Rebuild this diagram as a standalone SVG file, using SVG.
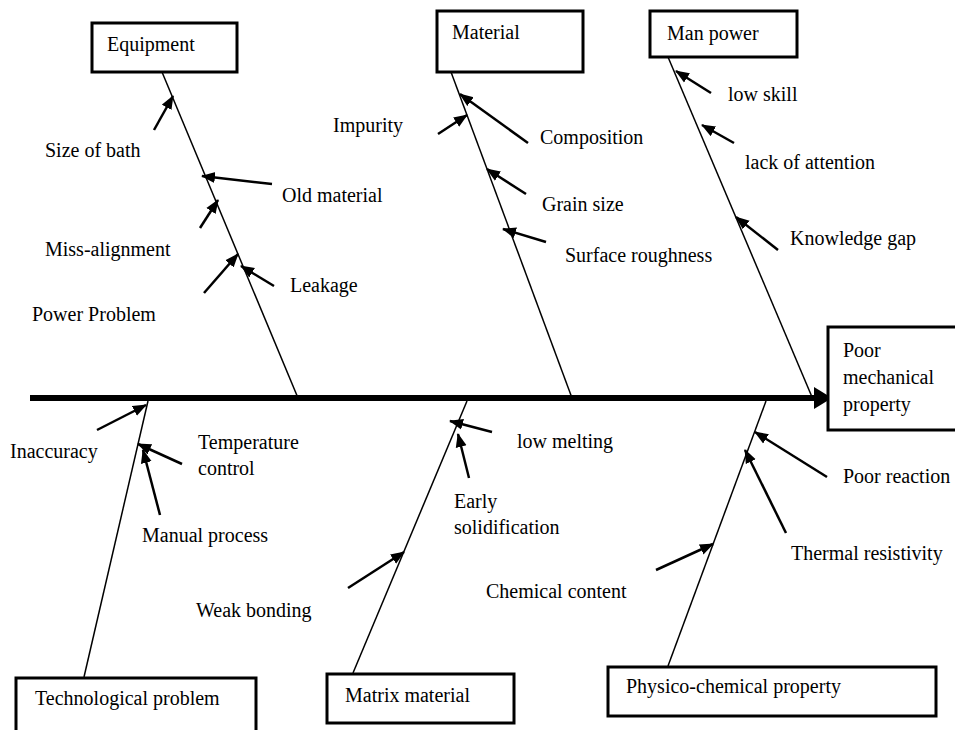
<svg xmlns="http://www.w3.org/2000/svg" width="955" height="730" viewBox="0 0 955 730">
<defs>
<style>
text{font-family:"Liberation Serif","Times New Roman",serif;font-size:20px;fill:#000}
.box{fill:#fff;stroke:#000;stroke-width:3}
.branch{stroke:#000;stroke-width:1.5;fill:none}
.sub{stroke:#000;stroke-width:2.5;fill:none;marker-end:url(#ah)}
</style>
<marker id="ah" markerUnits="userSpaceOnUse" markerWidth="14" markerHeight="12" refX="13" refY="5.5" orient="auto" viewBox="0 0 14 11">
<path d="M0,0 L14,5.5 L0,11 Z" fill="#000"/>
</marker>
</defs>
<rect width="955" height="730" fill="#fff"/>

<g id="connectors">
<line x1="30" y1="398" x2="818" y2="398" stroke="#000" stroke-width="6"/>
<polygon points="814,387 832,398 814,409" fill="#000"/>
<line class="branch" x1="162" y1="72" x2="298" y2="398"/>
<line class="branch" x1="451" y1="72" x2="572" y2="398"/>
<line class="branch" x1="668" y1="57" x2="812" y2="397"/>
<line class="branch" x1="148" y1="401" x2="84" y2="677"/>
<line class="branch" x1="467" y1="401" x2="353" y2="673"/>
<line class="branch" x1="766" y1="401" x2="668" y2="666"/>
<line class="sub" x1="154" y1="130" x2="173" y2="96"/>
<line class="sub" x1="272" y1="184" x2="202" y2="176"/>
<line class="sub" x1="200" y1="228" x2="218" y2="200"/>
<line class="sub" x1="204" y1="293" x2="238" y2="254"/>
<line class="sub" x1="274" y1="286" x2="241" y2="266"/>
<line class="sub" x1="528" y1="143" x2="460" y2="94"/>
<line class="sub" x1="438" y1="134" x2="467" y2="115"/>
<line class="sub" x1="526" y1="194" x2="487" y2="169"/>
<line class="sub" x1="546" y1="242" x2="503" y2="229"/>
<line class="sub" x1="711" y1="93" x2="676" y2="71"/>
<line class="sub" x1="734" y1="143" x2="702" y2="125"/>
<line class="sub" x1="778" y1="250" x2="736" y2="217"/>
<line class="sub" x1="97" y1="430" x2="146" y2="405"/>
<line class="sub" x1="182" y1="464" x2="138" y2="444"/>
<line class="sub" x1="160" y1="515" x2="143" y2="450"/>
<line class="sub" x1="492" y1="432" x2="450" y2="421"/>
<line class="sub" x1="469" y1="478" x2="458" y2="434"/>
<line class="sub" x1="348" y1="588" x2="404" y2="552"/>
<line class="sub" x1="827" y1="477" x2="755" y2="432"/>
<line class="sub" x1="786" y1="533" x2="745" y2="450"/>
<line class="sub" x1="656" y1="570" x2="713" y2="544"/>
</g>

<g id="equipment"><rect class="box" x="92" y="23" width="145" height="49"/><text x="107" y="51">Equipment</text></g>
<g id="material"><rect class="box" x="437" y="11" width="146" height="61"/><text x="452" y="39">Material</text></g>
<g id="manpower"><rect class="box" x="650" y="11" width="147" height="46"/><text x="667" y="40">Man power</text></g>
<g id="effect"><rect class="box" x="828" y="327" width="135" height="103"/><text x="843" y="357">Poor</text><text x="843" y="384">mechanical</text><text x="843" y="411">property</text></g>
<g id="technological"><rect class="box" x="16" y="678" width="240" height="70"/><text x="35" y="705">Technological problem</text></g>
<g id="matrix"><rect class="box" x="327" y="674" width="187" height="49"/><text x="345" y="702">Matrix material</text></g>
<g id="physico"><rect class="box" x="608" y="667" width="328" height="49"/><text x="626" y="693">Physico-chemical property</text></g>

<g id="c-size-of-bath"><text x="45" y="157">Size of bath</text></g>
<g id="c-old-material"><text x="282" y="202">Old material</text></g>
<g id="c-miss-alignment"><text x="45" y="256">Miss-alignment</text></g>
<g id="c-leakage"><text x="290" y="292">Leakage</text></g>
<g id="c-power-problem"><text x="32" y="321">Power Problem</text></g>
<g id="c-impurity"><text x="333" y="132">Impurity</text></g>
<g id="c-composition"><text x="540" y="144">Composition</text></g>
<g id="c-grain-size"><text x="542" y="211">Grain size</text></g>
<g id="c-surface-roughness"><text x="565" y="262">Surface roughness</text></g>
<g id="c-low-skill"><text x="728" y="101">low skill</text></g>
<g id="c-lack-of-attention"><text x="745" y="169">lack of attention</text></g>
<g id="c-knowledge-gap"><text x="790" y="245">Knowledge gap</text></g>
<g id="c-inaccuracy"><text x="10" y="458">Inaccuracy</text></g>
<g id="c-temperature-control"><text x="198" y="449">Temperature</text><text x="198" y="475">control</text></g>
<g id="c-manual-process"><text x="142" y="542">Manual process</text></g>
<g id="c-weak-bonding"><text x="196" y="617">Weak bonding</text></g>
<g id="c-low-melting"><text x="517" y="448">low melting</text></g>
<g id="c-early-solidification"><text x="454" y="508">Early</text><text x="454" y="534">solidification</text></g>
<g id="c-chemical-content"><text x="486" y="598">Chemical content</text></g>
<g id="c-poor-reaction"><text x="843" y="483">Poor reaction</text></g>
<g id="c-thermal-resistivity"><text x="791" y="560">Thermal resistivity</text></g>
</svg>
